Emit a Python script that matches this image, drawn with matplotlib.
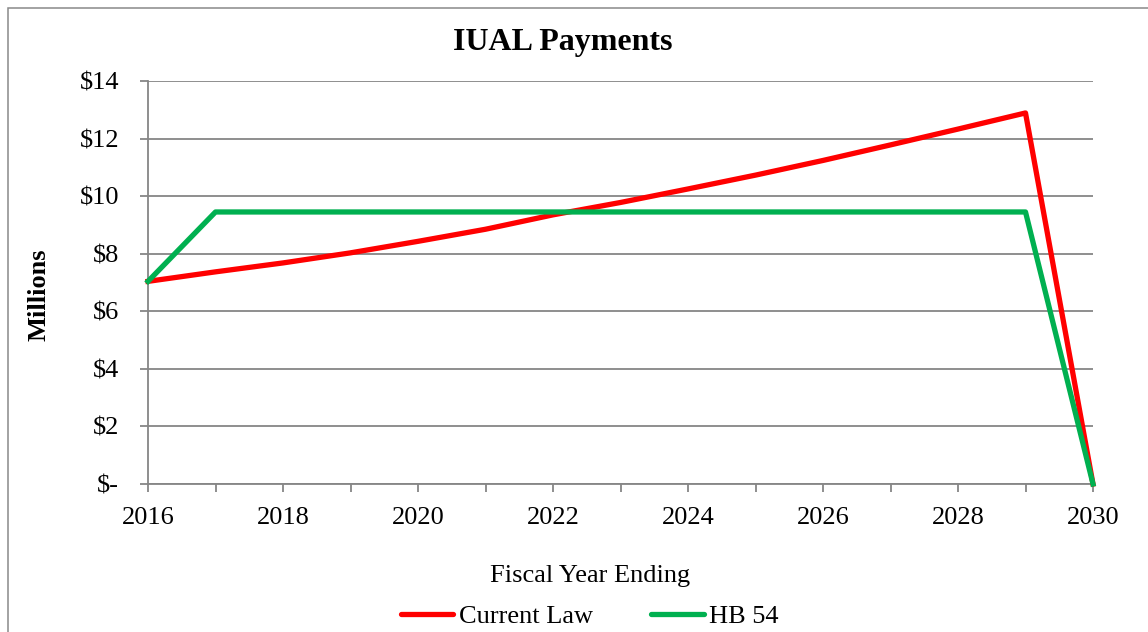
import matplotlib
matplotlib.use("Agg")
import matplotlib.pyplot as plt
from matplotlib.ticker import FuncFormatter, MultipleLocator
from matplotlib.patches import Rectangle

# values (millions of dollars)
years = [2016, 2017, 2018, 2019, 2020, 2021, 2022, 2023,
         2024, 2025, 2026, 2027, 2028, 2029, 2030]
current_law = [7.04, 7.37, 7.68, 8.03, 8.43, 8.85, 9.35, 9.78,
               10.25, 10.73, 11.24, 11.78, 12.33, 12.89, 0.0]
hb_54 = [7.04, 9.45, 9.45, 9.45, 9.45, 9.45, 9.45, 9.45,
         9.45, 9.45, 9.45, 9.45, 9.45, 9.45, 0.0]

plt.rcParams['font.family'] = ['Liberation Serif', 'DejaVu Serif']

W, H = 1148, 632
fig = plt.figure(figsize=(W / 100, H / 100), dpi=100)
fig.patch.set_facecolor('white')

# chart area border (only the left and top edges are in frame)
fig.patches.append(Rectangle((7.5 / W, -0.2), 2.0, 1.2 - 8 / H,
                             transform=fig.transFigure, fill=False,
                             edgecolor='#898989', linewidth=1.1))

ax = fig.add_axes([148 / W, 1 - 484 / H, 945 / W, 403 / H])

grid_col = '#868686'
ax.plot(years, current_law, color='#FF0000', linewidth=3.8,
        label='Current Law', clip_on=False, zorder=3)
ax.plot(years, hb_54, color='#00B050', linewidth=3.8,
        label='HB 54', clip_on=False, zorder=4)

ax.set_xlim(2016, 2030)
ax.set_ylim(0, 14)
ax.xaxis.set_major_locator(MultipleLocator(2))
ax.xaxis.set_minor_locator(MultipleLocator(1))
ax.yaxis.set_major_locator(MultipleLocator(2))
ax.yaxis.set_major_formatter(
    FuncFormatter(lambda v, p: '$-' if v == 0 else '$%d' % v))

ax.grid(axis='y', color=grid_col, linewidth=1.3)
ax.set_axisbelow(True)
for side in ['top', 'right']:
    ax.spines[side].set_visible(False)
for side in ['left', 'bottom']:
    ax.spines[side].set_color(grid_col)
    ax.spines[side].set_linewidth(1.3)

ax.tick_params(axis='both', which='both', direction='out', length=5.8,
               width=1.3, color=grid_col, labelsize=19)
ax.tick_params(axis='x', pad=10.5)
ax.tick_params(axis='y', pad=15)

fig.suptitle('IUAL Payments', x=562.5 / W, y=1 - 50 / H, va='baseline',
             fontsize=23, fontweight='bold')

ax.set_xlabel('Fiscal Year Ending', fontsize=19, va='baseline')
ax.xaxis.set_label_coords((590.5 - 148) / 945, -(582 - 484) / 403)
ax.set_ylabel('Millions', fontsize=19, fontweight='bold', va='center')
ax.yaxis.set_label_coords(-(148 - 39) / 945, (484 - 295) / 403)

handles, labels = ax.get_legend_handles_labels()
leg = fig.legend(handles, labels, loc='center', ncol=2, frameon=False,
                 fontsize=19, bbox_to_anchor=(589.5 / W, 1 - 616 / H),
                 handlelength=2.0, handletextpad=0.2, columnspacing=2.2)
for line in leg.get_lines():
    line.set_solid_capstyle('round')

fig.savefig('out.png', dpi=100)
